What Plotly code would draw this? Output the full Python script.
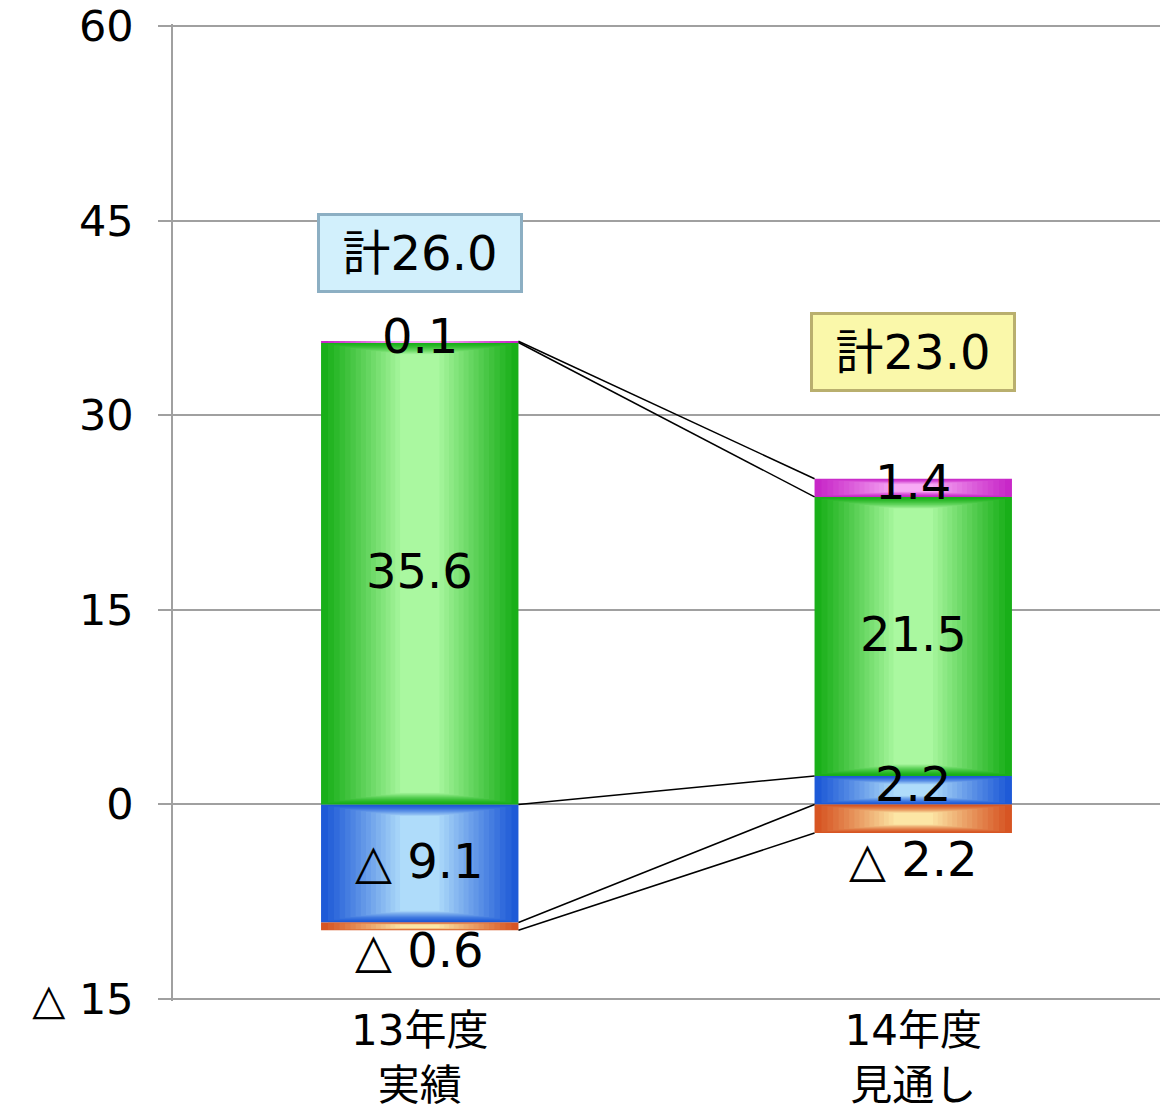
import plotly.graph_objects as go

# ---------------- data ----------------
categories = ["13年度<br>実績", "14年度<br>見通し"]
blue_vals = [-9.1, 2.2]
orange_vals = [-0.6, -2.2]
green_vals = [35.6, 21.5]
pink_vals = [0.1, 1.4]
totals = [26.0, 23.0]
y_tick_vals = [-15, 0, 15, 30, 45, 60]
y_tick_text = ["△ 15", "0", "15", "30", "45", "60"]

FONT = "DejaVu Sans, Noto Sans CJK JP"
BAR_W = 0.4
x_pos = [0, 1]

series = [
    ("blue", blue_vals, (30, 90, 215), (175, 220, 250)),
    ("orange", orange_vals, (215, 85, 35), (252, 230, 165)),
    ("green", green_vals, (25, 175, 25), (170, 248, 160)),
    ("pink", pink_vals, (200, 40, 200), (248, 170, 245)),
]


def fmt(v):
    return ("△ " if v < 0 else "") + f"{abs(v):.1f}"


def mix(c1, c2, t):
    return "rgb(%d,%d,%d)" % tuple(round(a + (b - a) * t) for a, b in zip(c1, c2))


# stacking (relative mode logic)
pos = [0.0, 0.0]
neg = [0.0, 0.0]
segments = {}
for name, vals, _, _ in series:
    bottoms, tops = [], []
    for i, v in enumerate(vals):
        if v >= 0:
            b = pos[i]
            pos[i] += v
            bottoms.append(b)
            tops.append(pos[i])
        else:
            t = neg[i]
            neg[i] += v
            bottoms.append(neg[i])
            tops.append(t)
    segments[name] = (bottoms, tops)

fig = go.Figure()

N = 16
for name, vals, edge, center in series:
    bottoms, tops = segments[name]
    for k in range(N):
        t = k / (N - 1)
        widths = [BAR_W * (1 - 0.8 * t ** 0.9)] * 2
        bases, heights = [], []
        for b, tp in zip(bottoms, tops):
            h = tp - b
            inset = min(0.3 * h, 0.9) * (t ** 0.7)
            bases.append(b + inset)
            heights.append(max(h - 2 * inset, 0))
        fig.add_trace(go.Bar(
            x=x_pos, y=heights, base=bases, width=widths,
            marker=dict(color=mix(edge, center, t), line=dict(width=0)),
            hoverinfo="skip", showlegend=False,
        ))

# connector lines
b_bot, b_top = segments["blue"]
o_bot, o_top = segments["orange"]
g_bot, g_top = segments["green"]
p_bot, p_top = segments["pink"]
connect_levels = [
    (p_top[0], p_top[1]),
    (g_top[0], g_top[1]),
    (b_top[0], b_top[1]),
    (b_bot[0], b_bot[1]),
    (o_bot[0], o_bot[1]),
]
for a, b in connect_levels:
    fig.add_shape(type="line", xref="x", yref="y",
                  x0=x_pos[0] + BAR_W / 2, y0=a, x1=x_pos[1] - BAR_W / 2, y1=b,
                  line=dict(color="black", width=1.5), layer="above")

# value labels
for name, vals, _, _ in series:
    bottoms, tops = segments[name]
    for i, v in enumerate(vals):
        if name == "orange":
            fig.add_annotation(x=x_pos[i], y=bottoms[i], text=fmt(v), showarrow=False,
                               yanchor="top", yshift=10 if i == 0 else 4,
                               font=dict(family=FONT, size=48, color="black"))
        else:
            fig.add_annotation(x=x_pos[i], y=(bottoms[i] + tops[i]) / 2, text=fmt(v),
                               showarrow=False, yanchor="middle",
                               yshift=6 if abs(v) < 3 else 2,
                               font=dict(family=FONT, size=48, color="black"))

# total boxes
total_styles = [("rgb(210,240,252)", "rgb(140,175,195)", 42.5),
                ("rgb(250,248,170)", "rgb(185,175,110)", 34.9)]
for i, tot in enumerate(totals):
    bg, bd, yy = total_styles[i]
    fig.add_annotation(x=x_pos[i], y=yy, text=f"計{tot:.1f}", showarrow=False,
                       bgcolor=bg, bordercolor=bd, borderwidth=3, borderpad=4,
                       width=192, height=66,
                       font=dict(family=FONT, size=48, color="black"))

fig.update_layout(
    barmode="overlay",
    width=1163, height=1116,
    margin=dict(l=173, r=3, t=24, b=115, autoexpand=False),
    paper_bgcolor="white", plot_bgcolor="white",
    font=dict(family=FONT, color="black"),
    showlegend=False,
)
fig.update_xaxes(
    range=[-0.5, 1.5], tickvals=x_pos, ticktext=categories,
    showgrid=False, zeroline=False, showline=False,
    ticks="", ticklabelstandoff=1, automargin=False,
    tickfont=dict(family=FONT, size=42, color="black"),
)
fig.update_yaxes(
    range=[-15.15, 60.15], tickvals=y_tick_vals, ticktext=y_tick_text,
    showgrid=True, gridcolor="rgb(160,160,160)", gridwidth=1.5,
    zeroline=True, zerolinecolor="rgb(160,160,160)", zerolinewidth=1.5,
    showline=True, linecolor="rgb(160,160,160)", linewidth=1.5,
    ticks="outside", ticklen=13, tickcolor="rgb(160,160,160)", tickwidth=1.5,
    ticklabelstandoff=16, ticklabeloverflow="allow", automargin=False,
    tickfont=dict(family=FONT, size=43, color="black"),
)

fig.write_html("out.html")
